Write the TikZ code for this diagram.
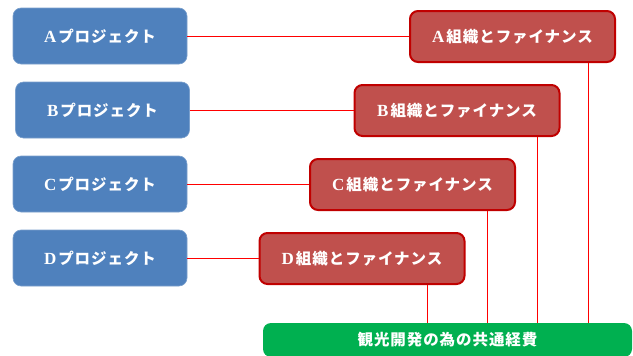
\documentclass[tikz,border=0pt]{standalone}
\usepackage{fontspec}
\newfontfamily\jpfont[LetterSpace=6]{Noto Sans CJK JP}
\newfontfamily\latfont{Liberation Serif}
\newcommand\ltr[1]{{\latfont\bfseries\fontsize{17}{18}\selectfont #1}\hspace{2pt}}
\definecolor{projblue}{HTML}{4F81BD}
\definecolor{finred}{HTML}{C0504D}
\definecolor{finborder}{HTML}{C00000}
\definecolor{costgreen}{HTML}{00B050}
\begin{document}
\begin{tikzpicture}[x=1pt,y=-1pt,
  boxtext/.style={text=white, inner sep=0pt, font=\jpfont\bfseries\fontsize{15.5}{18}\selectfont},
  proj/.style={boxtext, rounded corners=8pt, fill=projblue, draw=projblue!75!white, line width=0.6pt, minimum width=174pt, minimum height=56pt},
  fin/.style={boxtext, rounded corners=8pt, fill=finred, draw=finborder, line width=2pt, minimum width=205pt, minimum height=51pt},
  cost/.style={boxtext, rounded corners=8pt, fill=costgreen, draw=none, minimum width=369pt, minimum height=34pt},
  link/.style={draw=red, line width=0.9pt}]
\useasboundingbox (0,0) rectangle (633,356);
\begin{scope}
\clip (0,0) rectangle (633,356);
\node[proj] (pa) at (100,36) {\ltr{A}プロジェクト};
\node[proj] (pb) at (102.5,110) {\ltr{B}プロジェクト};
\node[proj] (pc) at (100,184) {\ltr{C}プロジェクト};
\node[proj] (pd) at (100,258) {\ltr{D}プロジェクト};
\node[fin] (fa) at (512.5,36.5) {\ltr{A}組織とファイナンス};
\node[fin] (fb) at (457,110.5) {\ltr{B}組織とファイナンス};
\node[fin] (fc) at (412.5,184.5) {\ltr{C}組織とファイナンス};
\node[fin] (fd) at (362,258.5) {\ltr{D}組織とファイナンス};
\node[cost] (g) at (447.5,340) {観光開発の為の共通経費};
\draw[link] (pa.east) -- (pa.east -| fa.west);
\draw[link] (pb.east) -- (pb.east -| fb.west);
\draw[link] (pc.east) -- (pc.east -| fc.west);
\draw[link] (pd.east) -- (pd.east -| fd.west);
\draw[link] ([xshift=75.5pt]fa.south) -- ([xshift=75.5pt]fa.south |- g.north);
\draw[link] ([xshift=80pt]fb.south) -- ([xshift=80pt]fb.south |- g.north);
\draw[link] ([xshift=74.5pt]fc.south) -- ([xshift=74.5pt]fc.south |- g.north);
\draw[link] ([xshift=65pt]fd.south) -- ([xshift=65pt]fd.south |- g.north);
\end{scope}
\end{tikzpicture}
\end{document}
